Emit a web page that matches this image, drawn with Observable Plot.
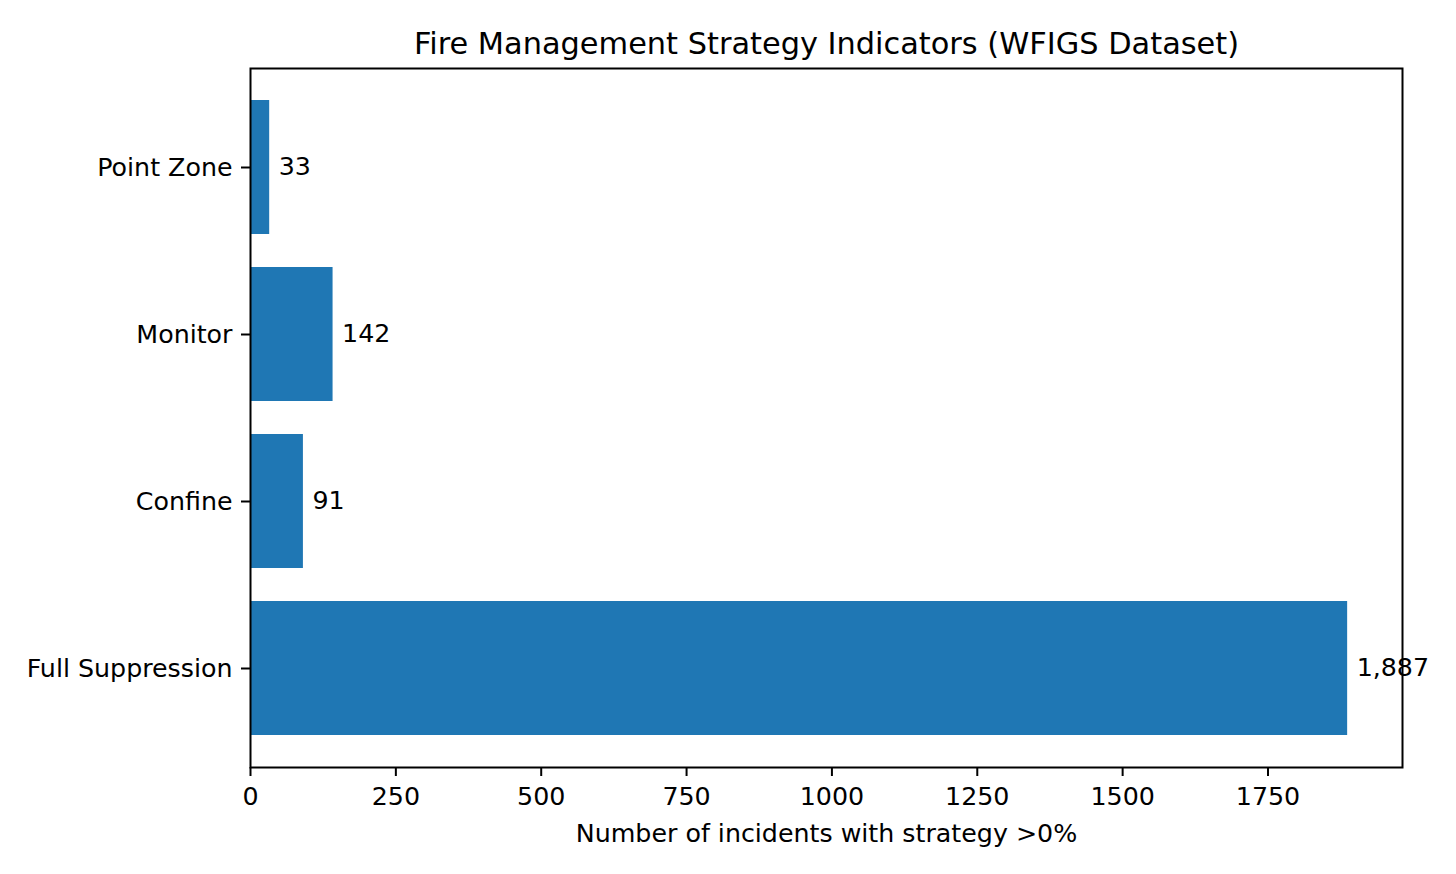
<!DOCTYPE html>
<html>
<head>
<meta charset="utf-8">
<script src="https://cdn.jsdelivr.net/npm/d3@7"></script>
<script src="https://cdn.jsdelivr.net/npm/@observablehq/plot@0.6"></script>
<style>
  html, body { margin: 0; padding: 0; background: #fff; }
  #chart svg { display: block; }
</style>
</head>
<body>
<div id="chart"></div>
<script>
const categories = ["Full Suppression", "Confine", "Monitor", "Point Zone"];
const counts = [1887, 91, 142, 33];
const xTicks = [0, 250, 500, 750, 1000, 1250, 1500, 1750];
const titleText = "Fire Management Strategy Indicators (WFIGS Dataset)";
const xLabel = "Number of incidents with strategy >0%";

const data = categories.map((c, i) => ({category: c, count: counts[i]}));
const xMax = d3.max(counts) * 1.05;
const font = "DejaVu Sans, sans-serif";
const fs = 25.3;

const chart = Plot.plot({
  width: 1456,
  height: 874,
  marginLeft: 250,
  marginRight: 54,
  marginTop: 68,
  marginBottom: 107,
  style: {fontFamily: font, fontSize: fs + "px", background: "#fff", color: "#000"},
  x: {domain: [0, xMax], ticks: xTicks},
  y: {type: "band", domain: categories.slice().reverse(), paddingInner: 0.2, paddingOuter: 0.19, align: 0.5},
  marks: [
    Plot.barX(data, {x: "count", y: "category", fill: "#1f77b4"}),
    Plot.text(data, {x: "count", y: "category", text: d => d3.format(",")(d.count), textAnchor: "start", dx: 9, dy: -1, fontSize: fs, fill: "#000"}),
    Plot.axisX({ticks: xTicks, tickFormat: d => String(d), tickSize: 9, tickPadding: 11, strokeWidth: 2, fontSize: fs, label: null}),
    Plot.axisY({tickSize: 9, tickPadding: 9, strokeWidth: 2, fontSize: fs, label: null, dy: 0}),
    Plot.frame({stroke: "#000", strokeWidth: 2}),
    Plot.text([titleText], {frameAnchor: "top", lineAnchor: "bottom", dy: -15, fontSize: 30.4, fill: "#000"}),
    Plot.text([xLabel], {frameAnchor: "bottom", lineAnchor: "top", dy: 57, fontSize: fs, fill: "#000"})
  ]
});
document.getElementById("chart").appendChild(chart);
</script>
</body>
</html>
